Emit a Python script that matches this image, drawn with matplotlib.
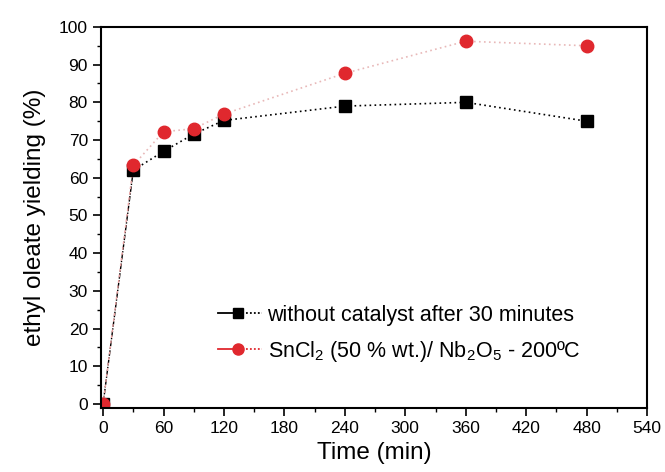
import numpy as np
import matplotlib
matplotlib.use("Agg")
import matplotlib.pyplot as plt
from matplotlib.lines import Line2D
from matplotlib.legend_handler import HandlerBase
from matplotlib.ticker import MultipleLocator

plt.rcParams['font.family'] = ['Liberation Sans', 'DejaVu Sans']
plt.rcParams['mathtext.default'] = 'regular'

# time (min)
tempo = [0, 30, 60, 90, 120, 240, 360, 480]
# ethyl oleate yielding (%)
sem_cat = [0, 62, 67, 71.6, 75.2, 79, 80, 75]
sncl2 = [0, 63.3, 72.2, 73, 76.9, 87.7, 96.2, 95]


class HandlerMisto(HandlerBase):
    # linha solida, marcador, depois pontilhado (igual ao original)
    def create_artists(self, legend, orig, xd, yd, w, h, fs, trans):
        y = h / 2 - yd
        cor = orig.get_color()
        a = Line2D([-xd, -xd + 0.38 * w], [y, y], color=cor, lw=1.3)
        m = Line2D([-xd + 0.45 * w], [y], ls='none', marker=orig.get_marker(),
                   ms=orig.get_markersize(), color=orig.get_markerfacecolor())
        b = Line2D([-xd + 0.55 * w, -xd + w], [y, y], color=cor, lw=1.3,
                   ls=(0, (1, 1.2)))
        for art in (a, m, b):
            art.set_transform(trans)
        return [a, m, b]


fig = plt.figure(figsize=(6.65, 4.72), dpi=100)
ax = fig.add_axes([0.152, 0.136, 0.821, 0.807])

ax.plot(tempo[:2], sem_cat[:2], color='black', lw=1, ls=(0, (4, 1, 1, 1)))
ax.plot(tempo[1:], sem_cat[1:], color='black', lw=1.2, ls=(0, (1, 2)))
ax.plot(tempo[:2], sncl2[:2], color='#e8a0a0', lw=1, ls=(0, (2, 2)))
ax.plot(tempo[1:], sncl2[1:], color='#e8b8b8', lw=1.2, ls=(0, (1, 2)))
ax.plot(tempo, sem_cat, ls='none', marker='s', ms=8, color='black')
ax.plot(tempo, sncl2, ls='none', marker='o', ms=9, color='#e0282e')

ax.set_xlim(-2, 540)
ax.set_ylim(-1, 100)
ax.xaxis.set_major_locator(MultipleLocator(60))
ax.xaxis.set_minor_locator(MultipleLocator(30))
ax.yaxis.set_major_locator(MultipleLocator(10))
ax.yaxis.set_minor_locator(MultipleLocator(5))
ax.tick_params(which='major', direction='out', length=6, width=1.2, labelsize=12.5)
ax.tick_params(which='minor', direction='out', length=3, width=1)
for s in ax.spines.values():
    s.set_linewidth(1.5)

ax.set_xlabel('Time (min)', fontsize=17.5, labelpad=4)
ax.set_ylabel('ethyl oleate yielding (%)', fontsize=17.5, labelpad=9)

h1 = Line2D([], [], color='black', marker='s', ms=7)
h2 = Line2D([], [], color='#e0282e', marker='o', ms=8)
ax.legend([h1, h2],
          ['without catalyst after 30 minutes',
           'SnCl$_2$ (50 % wt.)/ Nb$_2$O$_5$ - 200ºC'],
          loc='upper left', bbox_to_anchor=(218 / 665, 1 - 305 / 472),
          bbox_transform=fig.transFigure, frameon=False, borderpad=0,
          borderaxespad=0, fontsize=15.5, handlelength=2.05,
          handletextpad=0.25, labelspacing=0.6,
          handler_map={Line2D: HandlerMisto()})

fig.savefig('out.png', dpi=100)
